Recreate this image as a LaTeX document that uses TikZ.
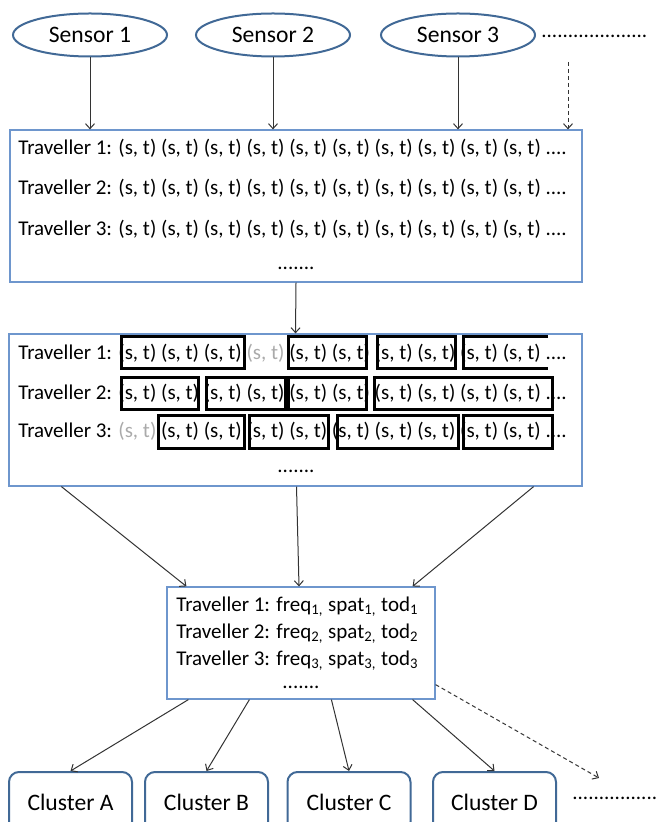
\documentclass[tikz,border=0pt]{standalone}
\usepackage{fontspec}
\setmainfont{Carlito}
\usetikzlibrary{arrows.meta, calc, shapes.geometric}

\definecolor{boxblue}{RGB}{110,150,205}
\definecolor{ovalblue}{RGB}{65,105,150}
\definecolor{stgrey}{RGB}{170,170,170}
\newcommand{\st}{(s, t)}
\newcommand{\gst}{\textcolor{stgrey}{(s, t)}}

\begin{document}
\begin{tikzpicture}[
x=0.5pt, y=-0.5pt,
font=\fontsize{10.5}{12}\selectfont,
sensor/.style={
ellipse,
draw=ovalblue,
line width=1pt,
minimum width=77pt,
minimum height=21.5pt,
inner sep=0 pt,
font=\fontsize{11.8}{14}\selectfont,
},
cluster/.style={
rectangle,
rounded corners=5pt,
draw=ovalblue,
line width=1pt,
minimum width=61.5pt,
minimum height=30pt,
font=\fontsize{11.8}{14}\selectfont,
},
stagebox/.style={rectangle, draw=boxblue, line width=0.6pt},
row/.style={anchor=west, inner sep=0 pt},
group/.style={draw=black, line width=1.5pt},
conn/.style={black!80, line width=0.5pt, -{Straight Barb[length=2.5pt, width=4.5pt]}},
dashconn/.style={conn, dash pattern=on 2pt off 1.5pt},
]
\clip (0,0) rectangle (657,822);

% sensors
\node [sensor] at (90,35) (sen1) {Sensor 1};
\node [sensor] at (273,35) (sen2) {Sensor 2};
\node [sensor] at (458,35) (sen3) {Sensor 3};
\node [row] at (541,36) (sendots) {....................};
\coordinate (dashtop) at (568,62);

% stage boxes
\node [stagebox, minimum width=286pt, minimum height=76pt] at (296,206) (box1) {};
\node [stagebox, minimum width=286.5pt, minimum height=76pt] at (295.5,410) (box2) {};
\node [stagebox, minimum width=134pt, minimum height=56pt] at (301,643) (box3) {};

% raw sequences
\path
(18,148) node[row] (r11) {Traveller 1: \st{} \st{} \st{} \st{} \st{} \st{} \st{} \st{} \st{} \st{} ....}
(18,188) node[row] (r12) {Traveller 2: \st{} \st{} \st{} \st{} \st{} \st{} \st{} \st{} \st{} \st{} ....}
(18,229) node[row] (r13) {Traveller 3: \st{} \st{} \st{} \st{} \st{} \st{} \st{} \st{} \st{} \st{} ....}
(296,268) node (dots1) {.......}
;

% segmented sequences
\path
(18,353) node[row] (r21) {Traveller 1: \st{} \st{} \st{} \gst{} \st{} \st{} \st{} \st{} \st{} \st{} ....}
(18,393) node[row] (r22) {Traveller 2: \st{} \st{} \st{} \st{} \st{} \st{} \st{} \st{} \st{} \st{} ....}
(18,431) node[row] (r23) {Traveller 3: \gst{} \st{} \st{} \st{} \st{} \st{} \st{} \st{} \st{} \st{} ....}
(296,471) node (dots2) {.......}
;

\draw [group] foreach \a/\b/\y in {121/244/337, 288/366/337, 377/455/337,
121/198/378, 206/285/378, 288/366/378, 374/552/378,
158/244/416, 249/328/416, 337/458/416, 463/552/416}
{(\a,\y) rectangle (\b,\y+32)};
\draw [group] (548,337) -- (463,337) -- (463,369) -- (548,369);

% features
\path
(176,607) node[row] (f1) {Traveller 1: freq\textsubscript{1,} spat\textsubscript{1,} tod\textsubscript{1}}
(176,634) node[row] (f2) {Traveller 2: freq\textsubscript{2,} spat\textsubscript{2,} tod\textsubscript{2}}
(176,661) node[row] (f3) {Traveller 3: freq\textsubscript{3,} spat\textsubscript{3,} tod\textsubscript{3}}
(301,687) node (dots3) {.......}
;

% clusters
\node [cluster] at (70.5,802) (cluA) {Cluster A};
\node [cluster] at (206.5,802) (cluB) {Cluster B};
\node [cluster] at (349,802) (cluC) {Cluster C};
\node [cluster] at (494.5,802) (cluD) {Cluster D};
\node [row] at (572,798) (cludots) {................};
\coordinate (dashend) at (599,778);

% connectors
\draw [conn] (sen1.south) -- (sen1.south |- box1.north);
\draw [conn] (sen2.south) -- (sen2.south |- box1.north);
\draw [conn] (sen3.south) -- (sen3.south |- box1.north);
\draw [dashconn] (dashtop) -- (dashtop |- box1.north);

\draw [conn] (box1.south) -- (box2.north);

\draw [conn] ($(box2.south west)+(53,0)$) -- ($(box3.north west)+(20,0)$);
\draw [conn] ($(box2.south)+(1,0)$) -- ($(box3.north)+(-2,0)$);
\draw [conn] ($(box2.south east)+(-49,0)$) -- ($(box3.north east)+(-23,0)$);

\draw [conn] ($(box3.south west)+(22,0)$) -- (cluA.north);
\draw [conn] ($(box3.south west)+(83,0)$) -- (cluB.north);
\draw [conn] ($(box3.south west)+(165,0)$) -- (cluC.north);
\draw [conn] ($(box3.south east)+(-23,0)$) -- (cluD.north);
\draw [dashconn] ($(box3.south east)+(0,-15)$) -- (dashend);

\end{tikzpicture}
\end{document}
